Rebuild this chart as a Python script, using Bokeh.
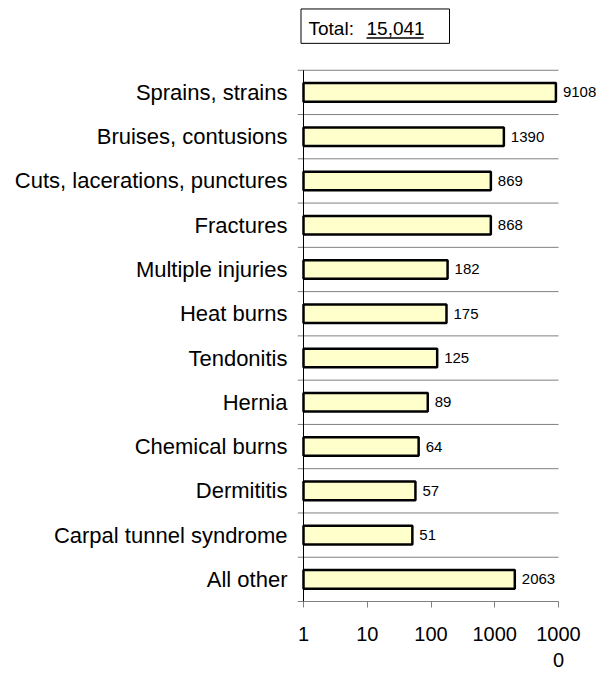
from bokeh.plotting import figure
from bokeh.models import ColumnDataSource, Range1d, FixedTicker
from bokeh.core.properties import value
from bokeh.embed import file_html
from bokeh.resources import INLINE

categories = ["Sprains, strains", "Bruises, contusions", "Cuts, lacerations, punctures",
              "Fractures", "Multiple injuries", "Heat burns", "Tendonitis", "Hernia",
              "Chemical burns", "Dermititis", "Carpal tunnel syndrome", "All other"]
counts = [9108, 1390, 869, 868, 182, 175, 125, 89, 64, 57, 51, 2063]
x_ticks = [1, 10, 100, 1000, 10000]
x_tick_labels = ["1", "10", "100", "1000", "1000\n0"]
total_prefix = "Total:"
total_value = "15,041"

FONT = "Liberation Sans"

# ---- layout constants (page pixels) ----
W, H = 606, 673
FRAME_LEFT = 297          # grid lines start here
AXIS_X = 303              # pixel of value 1
AXIS_END_X = 558          # pixel of value 10000
TOP_LINE = 70             # first separator line
BOTTOM_LINE = 603         # last separator line / value axis
FRAME_BOTTOM = 604
DECADE = (AXIS_END_X - AXIS_X) / 4.0
ROW = (BOTTOM_LINE - TOP_LINE) / len(categories)


def xp(px):
    """page x pixel -> data x (log scale)"""
    return 10 ** ((px - AXIS_X) / DECADE)


def yp(py):
    """page y pixel -> data y (category index units, centres at integers)"""
    return (py - TOP_LINE) / ROW - 0.5


n = len(categories)
pos = list(range(n))
src = ColumnDataSource(dict(pos=pos, count=counts, base=[1] * n,
                            label=[str(c) for c in counts]))

p = figure(width=W, height=H, output_backend="svg", toolbar_location=None,
           x_axis_type="log",
           x_range=Range1d(xp(FRAME_LEFT), xp(W)),
           y_range=Range1d(yp(FRAME_BOTTOM), yp(0)),
           min_border_left=FRAME_LEFT, min_border_right=0,
           min_border_top=0, min_border_bottom=H - FRAME_BOTTOM)
p.outline_line_color = None
p.background_fill_color = "white"
p.border_fill_color = "white"
p.xgrid.visible = False
p.ygrid.visible = False

# separator lines between categories (stop at the end of the value axis)
bounds = [i - 0.5 for i in range(n + 1)]
p.segment(x0=[xp(FRAME_LEFT)] * len(bounds), x1=[x_ticks[-1]] * len(bounds),
          y0=bounds, y1=bounds, line_color="#808080", line_width=1)

# value axis line at x = 1
p.segment(x0=[1], x1=[1], y0=[bounds[0]], y1=[bounds[-1]], line_color="black", line_width=1)

# bars
p.hbar(y="pos", left="base", right="count", height=0.42, source=src,
       fill_color="#FFFFCC", line_color="black", line_width=2.5)

# value labels
p.text(x="count", y="pos", text="label", source=src, x_offset=7,
       text_baseline="middle", text_align="left", text_font=value(FONT),
       text_font_size="15px", text_color="black")

# y axis (category labels)
p.yaxis.ticker = FixedTicker(ticks=pos, minor_ticks=[])
p.yaxis.major_label_overrides = {i: c for i, c in zip(pos, categories)}
p.yaxis.axis_line_color = None
p.yaxis.major_tick_line_color = None
p.yaxis.minor_tick_line_color = None
p.yaxis.major_tick_out = 0
p.yaxis.major_tick_in = 0
p.yaxis.major_label_standoff = 10
p.yaxis.major_label_text_font = FONT
p.yaxis.major_label_text_font_size = "22px"
p.yaxis.major_label_text_color = "black"

# x axis
p.xaxis.ticker = FixedTicker(ticks=x_ticks, minor_ticks=[])
p.xaxis.major_label_overrides = dict(zip(x_ticks, x_tick_labels))
p.xaxis.axis_line_color = None
p.xaxis.major_tick_line_color = "#808080"
p.xaxis.minor_tick_line_color = None
p.xaxis.major_tick_out = 5
p.xaxis.major_tick_in = 1
p.xaxis.major_label_standoff = 15
p.xaxis.major_label_text_font = FONT
p.xaxis.major_label_text_font_size = "20px"
p.xaxis.major_label_text_color = "black"
p.xaxis.major_label_text_align = "center"

# total box
p.quad(left=[xp(300.5)], right=[xp(449)], top=[yp(8.5)], bottom=[yp(43)],
       fill_color=None, line_color="black", line_width=1)
p.text(x=[xp(308)], y=[yp(28.5)], text=[total_prefix], text_baseline="middle",
       text_font=value(FONT), text_font_size="19px", text_color="black")
p.text(x=[xp(366)], y=[yp(28.5)], text=[total_value], text_baseline="middle",
       text_font=value(FONT), text_font_size="19px", text_color="black")
p.segment(x0=[xp(366)], x1=[xp(423)], y0=[yp(37.5)], y1=[yp(37.5)],
          line_color="black", line_width=1.5)

open("out.html", "w").write(file_html(p, INLINE))
